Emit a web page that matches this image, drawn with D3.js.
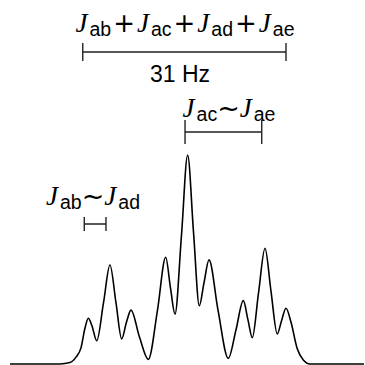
<!DOCTYPE html>
<html>
<head>
<meta charset="utf-8">
<script src="https://cdn.jsdelivr.net/npm/d3@7"></script>
<style>
  body { margin: 0; background: #fff; }
  .spec { fill: none; stroke: #000; stroke-width: 1.6; }
  .bracket { stroke: #222; stroke-width: 1.4; fill: none; }
</style>
</head>
<body>
<svg id="chart" width="365" height="365"></svg>
<script>
// traced spectrum: frequency offset (Hz) and relative intensity
const traceHz = [-27.0, -19.4, -17.85, -16.93, -16.17, -15.56, -15.05, -14.49, -13.77, -12.74,
  -11.75, -10.83, -9.96, -9.23, -8.54, -7.25, -5.90, -4.50, -3.25, -2.52,
  -1.83, -0.84, 0.1, 0.99, 1.88, 2.59, 3.36, 4.73, 6.30, 7.47,
  8.59, 9.30, 9.96, 10.91, 11.90, 12.81, 13.77, 14.41, 15.10, 15.86,
  16.78, 17.74, 18.76, 27.0];
const traceInt = [0, 0, 0.007, 0.033, 0.077, 0.172, 0.219, 0.182, 0.111, 0.292,
  0.474, 0.292, 0.120, 0.201, 0.258, 0.129, 0.022, 0.258, 0.511, 0.364,
  0.239, 0.617, 1.0, 0.632, 0.279, 0.388, 0.498, 0.258, 0.027, 0.163,
  0.303, 0.211, 0.126, 0.340, 0.554, 0.349, 0.144, 0.206, 0.267, 0.201,
  0.077, 0.019, 0, 0];

// coupling brackets (Hz extents)
const bracketFrom = [-15.9, -0.3, -15.67];
const bracketTo = [15.1, 11.4, -12.36];

// labels: J subscripts and the operator between them
const labelSubs = [['ab', 'ac', 'ad', 'ae'], ['ac', 'ae'], ['ab', 'ad']];
const labelOps = ['+', '~', '~'];
const widthLabel = '31 Hz';

const svg = d3.select('#chart');
const xScale = d3.scaleLinear().domain([-27, 27]).range([10, 364]);
const yScale = d3.scaleLinear().domain([0, 1]).range([364, 155]);

const pts = traceHz.map((h, i) => [h, traceInt[i]]);
const line = d3.line()
  .x(d => xScale(d[0]))
  .y(d => yScale(d[1]))
  .curve(d3.curveMonotoneX);

svg.append('path')
  .datum(pts)
  .attr('class', 'spec')
  .attr('d', line);

// bracket layout (y of bar, half height of end ticks)
const bracketY = [52, 132, 224];
const tickHalf = [9, 12, 7];

bracketFrom.forEach((f, i) => {
  const x0 = xScale(f), x1 = xScale(bracketTo[i]), y = bracketY[i], h = tickHalf[i];
  svg.append('path')
    .attr('class', 'bracket')
    .attr('d', `M${x0},${y - h}V${y + h}M${x0},${y}H${x1}M${x1},${y - h}V${y + h}`);
});

// label positions
const labelX = [185, 229, 93];
const labelY = [31.5, 117, 205];
const subShift = 4;

function drawLabel(subs, op, x, y) {
  const t = svg.append('text')
    .attr('x', x)
    .attr('y', y)
    .attr('text-anchor', 'middle');
  subs.forEach((s, i) => {
    if (i > 0) {
      t.append('tspan')
        .attr('dy', -subShift)
        .attr('dx', op === '+' ? 2 : 0)
        .style('font-family', 'DejaVu Sans, sans-serif')
        .style('font-size', op === '+' ? '26px' : '27px')
        .text(op);
    }
    t.append('tspan')
      .attr('dx', i > 0 ? (op === '+' ? 2 : 0) : 0)
      .style('font-family', 'Liberation Serif, serif')
      .style('font-style', 'italic')
      .style('font-size', '27px')
      .text('J');
    t.append('tspan')
      .attr('dy', subShift)
      .attr('dx', 2)
      .style('font-family', 'Liberation Sans, sans-serif')
      .style('font-size', '19.5px')
      .text(s);
  });
}

labelSubs.forEach((s, i) => drawLabel(s, labelOps[i], labelX[i], labelY[i]));

svg.append('text')
  .attr('x', 180)
  .attr('y', 82)
  .attr('text-anchor', 'middle')
  .style('font-family', 'Liberation Sans, sans-serif')
  .style('font-size', '23px')
  .text(widthLabel);
</script>
</body>
</html>
